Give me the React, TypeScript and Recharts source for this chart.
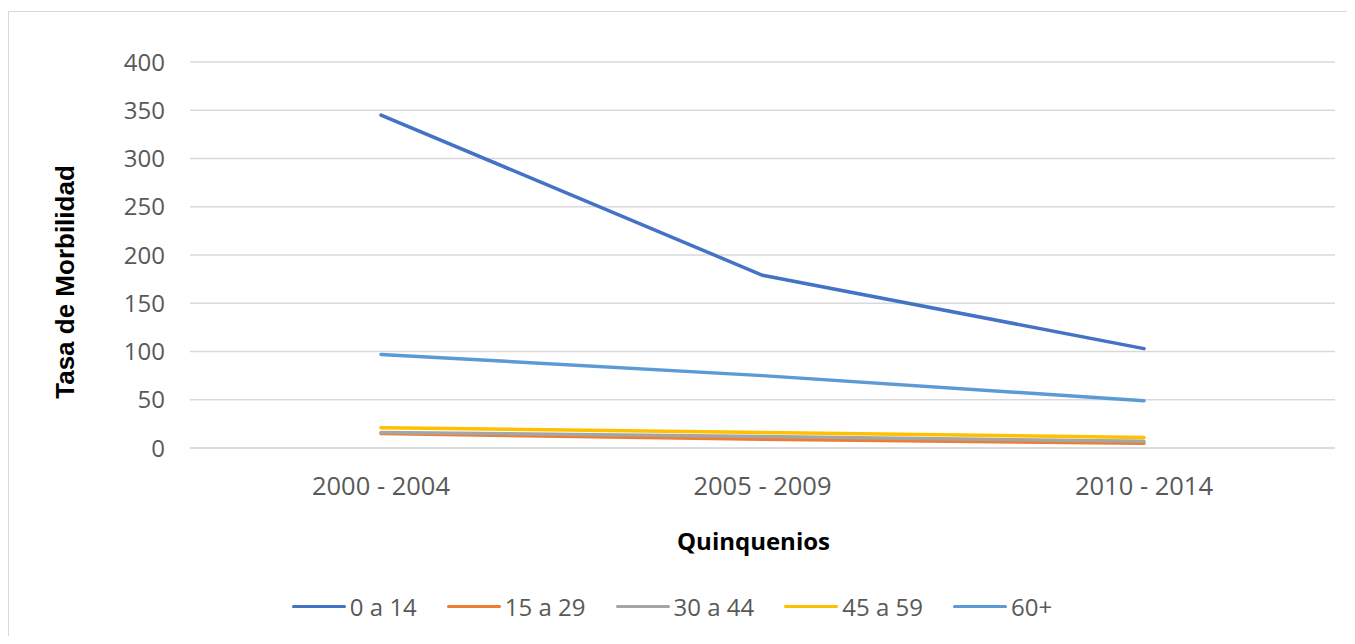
import { LineChart, Line, XAxis, YAxis, CartesianGrid, Legend, Label } from 'recharts';

const quinquenios = ['2000 - 2004', '2005 - 2009', '2010 - 2014'];
const edad0a14 = [345, 179, 103];
const edad15a29 = [15, 9, 5];
const edad30a44 = [16, 12, 7];
const edad45a59 = [21, 16, 11];
const edad60mas = [97, 75, 49];
const yTicks = [0, 50, 100, 150, 200, 250, 300, 350, 400];

const series = [
  { key: 'g1', name: '0 a 14', values: edad0a14, color: '#4472C4' },
  { key: 'g2', name: '15 a 29', values: edad15a29, color: '#ED7D31' },
  { key: 'g3', name: '30 a 44', values: edad30a44, color: '#A5A5A5' },
  { key: 'g4', name: '45 a 59', values: edad45a59, color: '#FFC000' },
  { key: 'g5', name: '60+', values: edad60mas, color: '#5B9BD5' },
];

const data = quinquenios.map((q, i) => {
  const row: Record<string, string | number> = { q };
  series.forEach(s => {
    row[s.key] = s.values[i];
  });
  return row;
});

const tickFont = { fontFamily: '"Open Sans", sans-serif', fontSize: 24, fill: '#595959' };
const xTickFont = { ...tickFont, fontSize: 25.5 };

const LegendContent = () => (
  <div
    style={{
      height: 60,
      display: 'flex',
      justifyContent: 'center',
      alignItems: 'center',
      fontFamily: '"Open Sans", sans-serif',
      fontSize: 24,
      color: '#595959',
      gap: 30,
    }}
  >
    {series.map(s => (
      <div key={s.key} style={{ display: 'flex', alignItems: 'center' }}>
        <span style={{ width: 54, height: 3, background: s.color, borderRadius: 2, marginRight: 4 }} />
        <span>{s.name}</span>
      </div>
    ))}
  </div>
);

export default function App() {
  return (
    <div style={{ paddingTop: 3 }}>
      <div style={{ width: 1346, height: 624, borderTop: '1px solid #D9D9D9', borderLeft: '1px solid #D9D9D9' }}>
        <LineChart width={1346} height={624} data={data} margin={{ top: 50, right: 20, left: 0, bottom: 0 }}>
          <CartesianGrid vertical={false} stroke="#D9D9D9" strokeWidth={1.5} />
          <XAxis
            dataKey="q"
            padding={{ left: 191, right: 191 }}
            axisLine={{ stroke: '#D9D9D9', strokeWidth: 1.5 }}
            tickLine={false}
            tickSize={0}
            tickMargin={29}
            tick={xTickFont}
            height={128}
          >
            <Label
              content={({ viewBox }: any) => (
                <text
                  x={viewBox.x + viewBox.width / 2 - 9}
                  y={viewBox.y + 92}
                  textAnchor="middle"
                  dominantBaseline="central"
                  style={{ fontFamily: '"Open Sans", sans-serif', fontSize: 24, fontWeight: 700, fill: '#000' }}
                >
                  Quinquenios
                </text>
              )}
            />
          </XAxis>
          <YAxis
            domain={[0, 400]}
            ticks={yTicks}
            width={181}
            axisLine={false}
            tickLine={false}
            tickSize={0}
            tickMargin={25}
            tick={tickFont}
          >
            <Label
              content={({ viewBox }: any) => (
                <text
                  x={56}
                  y={viewBox.y + viewBox.height / 2 + 27}
                  transform={`rotate(-90, 56, ${viewBox.y + viewBox.height / 2 + 27})`}
                  textAnchor="middle"
                  dominantBaseline="central"
                  style={{ fontFamily: '"Liberation Sans", Arial, sans-serif', fontSize: 26, fontWeight: 700, fill: '#000' }}
                >
                  Tasa de Morbilidad
                </text>
              )}
            />
          </YAxis>
          <Legend verticalAlign="bottom" content={<LegendContent />} />
          {series.map(s => (
            <Line
              key={s.key}
              dataKey={s.key}
              name={s.name}
              stroke={s.color}
              strokeWidth={3.5}
              strokeLinecap="round"
              dot={false}
              activeDot={false}
              type="linear"
              isAnimationActive={false}
            />
          ))}
        </LineChart>
      </div>
    </div>
  );
}
